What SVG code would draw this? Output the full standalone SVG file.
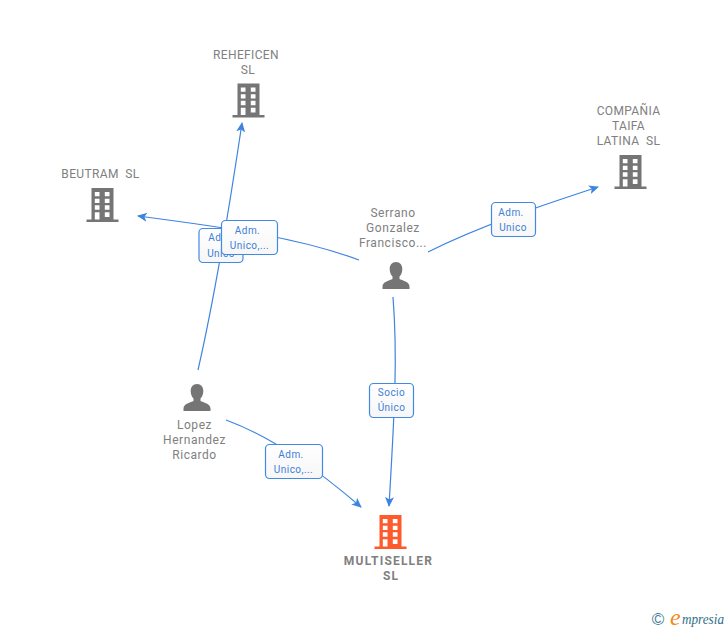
<svg xmlns="http://www.w3.org/2000/svg" width="728" height="630" viewBox="0 0 728 630">
<style>
.c{fill:none;stroke:#3d84e0;stroke-width:1.2}
.n{font-family:"Roboto","Liberation Sans",sans-serif;font-size:12px;fill:#808080;text-anchor:middle;letter-spacing:.35px}
.p{letter-spacing:.55px}
.b{font-family:"Roboto","Liberation Sans",sans-serif;font-size:10px;fill:#3d7fd6;text-anchor:middle;letter-spacing:.45px}
.box{fill:url(#lg);stroke:#4289e4;stroke-width:1.2}
</style>
<defs>
<linearGradient id="lg" x1="0" y1="0" x2="0" y2="1"><stop offset="0" stop-color="#fff"/><stop offset="1" stop-color="#f6f6f6"/></linearGradient>
<marker id="a" markerUnits="userSpaceOnUse" markerWidth="12" markerHeight="12" refX="9" refY="5" orient="auto"><path d="M0 0.500L10 5L0 9.500L2.500 5Z" fill="#3d84e0"/></marker>
<symbol id="bld" overflow="visible"><path fill-rule="evenodd" d="M-11 0H11V31.500H16V34H-16V31.500H-11ZM-7.700 4V8.300H-3V4ZM2.300 4V8.300H7V4ZM-7.700 10.700V15H-3V10.700ZM2.300 10.700V15H7V10.700ZM-7.700 17.300V21.700H-3V17.300ZM2.300 17.300V21.700H7V17.300ZM-7.700 24.300V31.500H-3V24.300ZM2.300 24.300V29H7V24.300Z"/></symbol>
<symbol id="per" overflow="visible"><path d="M0 0C4 0 6.300 3 6.300 7C6.300 10.500 5 13 3.500 14.500V17C6 18.500 13.500 19.500 13.500 24.500V27H-13.500V24.500C-13.500 19.500 -6 18.500 -3.500 17V14.500C-5 13 -6.300 10.500 -6.300 7C-6.300 3 -4 0 0 0Z"/></symbol>
</defs>
<g id="connectors">
<path class="c" marker-end="url(#a)" d="M198 370C214 300 232 190 242 123"/>
<path class="c" marker-end="url(#a)" d="M359 260C300 238 230 228 138 216"/>
<path class="c" marker-end="url(#a)" d="M428 252C480 226 540 206 598 187"/>
<path class="c" marker-end="url(#a)" d="M393 297C398 360 394 420 389 506"/>
<path class="c" marker-end="url(#a)" d="M226 420C275 438 320 472 361 507"/>
</g>
<g id="reheficen"><text class="n" x="246" y="59">REHEFICEN</text><text class="n" x="248" y="74">SL</text><use href="#bld" x="248.500" y="83.500" fill="#757575"/></g>
<g id="beutram"><text class="n" x="100.500" y="178" xml:space="preserve">BEUTRAM  SL</text><use href="#bld" x="102.500" y="188" fill="#757575"/></g>
<g id="compania"><text class="n" x="628.500" y="115">COMPAÑIA</text><text class="n" x="628.500" y="130">TAIFA</text><text class="n" x="628.500" y="145" xml:space="preserve">LATINA  SL</text><use href="#bld" x="630.500" y="155" fill="#757575"/></g>
<g id="serrano"><text class="n p" x="393" y="217">Serrano</text><text class="n p" x="393" y="232">Gonzalez</text><text class="n p" x="393" y="247">Francisco...</text><use href="#per" x="396" y="262" fill="#757575"/></g>
<g id="lopez"><text class="n p" x="194.500" y="429">Lopez</text><text class="n p" x="194.500" y="444">Hernandez</text><text class="n p" x="194.500" y="459">Ricardo</text><use href="#per" x="197" y="384" fill="#757575"/></g>
<g id="multiseller"><use href="#bld" x="390.500" y="515" fill="#ff5a2b"/><text class="n" x="388.500" y="565" style="font-weight:700;letter-spacing:1.2px">MULTISELLER</text><text class="n" x="391" y="580" style="font-weight:700;letter-spacing:1px">SL</text></g>
<g id="label-1"><rect class="box" x="199" y="228.500" width="44" height="34" rx="4"/><text class="b" x="221" y="241">Adm.</text><text class="b" x="221" y="257">Unico</text></g>
<g id="label-2"><rect class="box" x="221.500" y="220.500" width="56" height="34" rx="4"/><text class="b" x="247.500" y="234">Adm.</text><text class="b" x="249.500" y="249">Unico,...</text></g>
<g id="label-3"><rect class="box" x="491.500" y="202.500" width="44" height="34" rx="4"/><text class="b" x="511" y="216">Adm.</text><text class="b" x="513" y="231">Unico</text></g>
<g id="label-4"><rect class="box" x="369.500" y="383.500" width="44" height="34" rx="4"/><text class="b" x="391.500" y="396">Socio</text><text class="b" x="391.500" y="411">Único</text></g>
<g id="label-5"><rect class="box" x="265.500" y="444.500" width="57" height="34" rx="4"/><text class="b" x="291" y="458">Adm.</text><text class="b" x="293.500" y="473">Unico,...</text></g>
<g id="logo"><text x="658" y="625" text-anchor="middle" style="font-family:'Liberation Sans',sans-serif;font-size:17px;fill:#3d7f95">©</text><text x="670" y="625" style="font-family:'Liberation Serif',serif;font-style:italic;font-size:24px;fill:#f08a1d">e</text><text x="682" y="624" textLength="42" lengthAdjust="spacingAndGlyphs" style="font-family:'Liberation Serif',serif;font-style:italic;font-size:14px;fill:#2f6f85">mpresia</text></g>
</svg>
